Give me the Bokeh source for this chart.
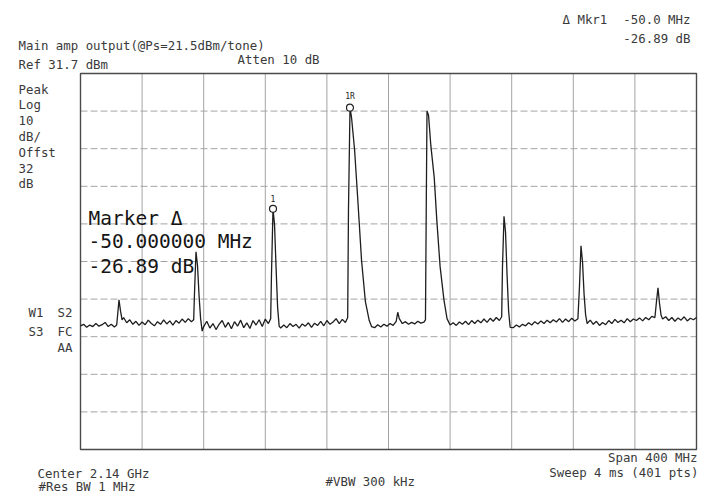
from bokeh.plotting import figure
from bokeh.models import Label, Range1d
from bokeh.core.properties import value
from bokeh.embed import file_html
from bokeh.resources import INLINE

# ---------------- data (read from the analyzer print) ----------------
center_mhz = 2140.0
span_mhz = 400.0
ref_dbm = 31.7
db_per_div = 10.0

freq_mhz = [
    1940, 1942, 1944, 1946, 1948, 1950, 1952, 1954, 1956, 1958, 1960, 1962, 1963.5,
    1964, 1965, 1966, 1967, 1968,
    1970, 1972, 1974, 1976, 1978, 1980, 1982, 1984, 1986, 1988, 1990, 1992, 1994, 1996,
    1998, 2000, 2002, 2004, 2006, 2008, 2010, 2012, 2013.5,
    2014, 2015, 2016, 2017, 2018, 2019,
    2020, 2022, 2024, 2026, 2028, 2030, 2032, 2034, 2036, 2038, 2040, 2042, 2044, 2046,
    2048, 2050, 2052, 2054, 2056, 2058, 2060, 2062, 2063.5,
    2064, 2065, 2066, 2067, 2068, 2069,
    2070, 2072, 2074, 2076, 2078, 2080, 2082, 2084, 2086, 2088, 2090, 2092, 2094, 2096,
    2098, 2100, 2102, 2104, 2106, 2108, 2110, 2112, 2113.5,
    2114, 2115, 2116, 2118, 2120, 2122.5, 2125, 2127.5, 2129,
    2131, 2133, 2135, 2137, 2139, 2141, 2143, 2145, 2146, 2147, 2149, 2151, 2153, 2155,
    2157, 2159, 2161, 2163, 2164,
    2164.5, 2165, 2166, 2167.5, 2169.7, 2171.4, 2173.5, 2176, 2178, 2180,
    2182, 2184, 2186, 2188, 2190, 2192, 2194, 2196, 2198, 2200, 2202, 2204, 2206, 2208,
    2210, 2212, 2213.5,
    2214, 2215, 2216, 2217, 2218, 2219,
    2221, 2223, 2225, 2227, 2229, 2231, 2233, 2235, 2237, 2239, 2241, 2243, 2245, 2247,
    2249, 2251, 2253, 2255, 2257, 2259, 2261, 2263,
    2264, 2265, 2266, 2267, 2268, 2269,
    2271, 2273, 2275, 2277, 2279, 2281, 2283, 2285, 2287, 2289, 2291, 2293, 2295, 2297,
    2299, 2301, 2303, 2305, 2307, 2309, 2311, 2313,
    2314, 2315, 2316, 2317, 2318,
    2320, 2322, 2324, 2326, 2328, 2330, 2332, 2334, 2336, 2338, 2340,
]

level_dbm = [
    -35.4, -35.0, -35.8, -35.2, -35.6, -34.8, -35.5, -35.1, -34.5, -35.6, -35.0, -35.7, -35.2,
    -33.0, -28.5, -31.5, -33.8, -33.2,
    -34.6, -33.8, -35.0, -34.2, -35.3, -34.4, -35.1, -33.9, -34.8, -35.4, -34.3, -35.0, -33.8, -34.9,
    -34.1, -35.2, -34.0, -34.7, -33.6, -34.5, -33.5, -34.3, -33.8,
    -27.0, -15.7, -19.5, -27.5, -33.5, -36.8,
    -35.6, -34.2, -36.0, -34.8, -36.4, -35.0, -34.0, -35.8, -34.5, -36.2, -34.3, -35.5, -33.9, -35.9,
    -34.6, -36.1, -34.0, -35.2, -33.8, -35.6, -33.6, -34.8, -33.5,
    -22.0, -4.3, -8.5, -20.0, -30.5, -35.5,
    -36.0, -35.2, -35.9, -34.8, -35.6, -35.0, -36.0, -34.9, -35.5, -34.6, -35.8, -34.7, -35.3, -34.2,
    -35.4, -34.0, -35.0, -34.4, -33.5, -34.8, -33.7, -34.5, -33.2,
    -5.0, 22.6, 20.0, 11.3, -1.5, -18.0, -29.0, -34.0, -35.6,
    -35.9, -35.1, -35.7, -35.0, -35.5, -34.8, -35.3, -34.2, -31.8, -33.5, -34.8, -34.3, -35.0, -34.5,
    -34.9, -34.2, -34.7, -34.4, -33.8,
    -5.0, 21.7, 20.6, 12.5, 4.0, -7.5, -19.6, -28.5, -33.5, -35.2,
    -34.6, -35.3, -34.4, -35.0, -34.2, -35.1, -34.0, -34.8, -33.9, -34.6, -33.6, -34.5, -33.4, -34.2,
    -33.2, -34.0, -33.0,
    -20.0, -6.3, -10.5, -22.0, -31.5, -35.8,
    -35.9, -35.2, -35.7, -35.0, -35.4, -34.6, -35.2, -34.3, -34.9, -34.1, -34.8, -33.9, -34.6, -33.8,
    -34.4, -33.5, -34.5, -33.6, -34.3, -33.4, -34.1, -33.5,
    -25.0, -14.1, -18.5, -27.0, -32.5, -34.8,
    -33.9, -35.0, -34.2, -35.3, -34.5, -35.1, -34.0, -34.8, -33.7, -34.5, -33.9, -34.6, -33.5, -34.3,
    -33.6, -34.0, -33.3, -34.1, -33.2, -33.8, -32.9, -33.2,
    -29.0, -25.3, -29.5, -32.6, -33.6,
    -33.0, -34.0, -33.2, -34.2, -33.3, -33.9, -33.0, -34.1, -33.4, -33.8, -33.2,
]

marker_freq_mhz = [2115, 2065]
marker_level_dbm = [22.6, -4.3]
marker_names = ["1R", "1"]

grid_freq_mhz = [1980, 2020, 2060, 2100, 2140, 2180, 2220, 2260, 2300]
grid_level_dbm = [21.7, 11.7, 1.7, -8.3, -18.3, -28.3, -38.3, -48.3, -58.3]

# ---------------- layout ----------------
x_lo = center_mhz - span_mhz / 2
x_hi = center_mhz + span_mhz / 2
y_hi = ref_dbm
y_lo = ref_dbm - 10 * db_per_div

W, H = 700, 496
BOX_L, BOX_R, BOX_T, BOX_B = 80, 696, 73, 449   # canvas pixels of the graticule box
sx = (x_hi - x_lo) / (BOX_R - BOX_L)
sy = (y_hi - y_lo) / (BOX_B - BOX_T)


def px(xp):
    return x_lo + (xp - BOX_L) * sx


def py(yp):
    return y_hi - (yp - BOX_T) * sy


p = figure(
    title=None,
    width=W, height=H,
    min_border=0,
    x_range=Range1d(px(0), px(W)),
    y_range=Range1d(py(H), py(0)),
    x_axis_location=None,
    y_axis_location=None,
    toolbar_location=None,
    output_backend="svg",
    background_fill_color="white",
    border_fill_color="white",
)
p.outline_line_color = None
p.xgrid.visible = False
p.ygrid.visible = False

# graticule
p.segment(x0=grid_freq_mhz, y0=[y_lo] * len(grid_freq_mhz),
          x1=grid_freq_mhz, y1=[y_hi] * len(grid_freq_mhz),
          line_color="#a4a4a4", line_width=1)
p.segment(x0=[x_lo] * len(grid_level_dbm), y0=grid_level_dbm,
          x1=[x_hi] * len(grid_level_dbm), y1=grid_level_dbm,
          line_color="#a4a4a4", line_width=1, line_dash="7 3")
p.quad(left=[x_lo], right=[x_hi], bottom=[y_lo], top=[y_hi],
       fill_color=None, line_color="#4a4a4a", line_width=1.4)

# trace
p.line(freq_mhz, level_dbm, line_color="#1e1e1e", line_width=1.3)

# markers
p.scatter(marker_freq_mhz, marker_level_dbm, marker="circle", size=7,
          fill_color="white", line_color="#222222", line_width=1.2)
p.text(marker_freq_mhz, marker_level_dbm, text=marker_names, y_offset=-7,
       text_font=value("DejaVu Sans Mono"), text_font_size="8px",
       text_align="center", text_baseline="bottom", text_color="#222222")

SMALL = "12.4px"
FONT = "DejaVu Sans Mono"
SMALL_C = "#3a3a3a"


def add_text(xp, yp, s, size=SMALL, color=SMALL_C, align="left"):
    p.add_layout(Label(x=px(xp), y=py(yp), text=s, text_font=FONT,
                       text_font_size=size, text_color=color,
                       text_align=align, text_baseline="middle"))


add_text(18, 45, "Main amp output(@Ps=21.5dBm/tone)")
add_text(18, 64, "Ref 31.7 dBm")
add_text(237, 59, "Atten 10 dB")
add_text(562, 19, "\u0394 Mkr1")
add_text(690, 19, "-50.0 MHz", align="right")
add_text(690, 38, "-26.89 dB", align="right")

side_labels = ["Peak", "Log", "10", "dB/", "Offst", "32", "dB"]
for i, s in enumerate(side_labels):
    add_text(18, 88.5 + i * 15.8, s)

add_text(28, 312, "W1")
add_text(57, 312, "S2")
add_text(28, 331, "S3")
add_text(57, 331, "FC")
add_text(57, 347, "AA")

BIG = "19.5px"
BIG_C = "#151515"
add_text(88, 218, "Marker \u0394", size=BIG, color=BIG_C)
add_text(88, 241, "-50.000000 MHz", size=BIG, color=BIG_C)
add_text(88, 266, "-26.89 dB", size=BIG, color=BIG_C)

add_text(37, 473, "Center 2.14 GHz")
add_text(38, 486, "#Res BW 1 MHz")
add_text(325, 481, "#VBW 300 kHz")
add_text(697, 457, "Span 400 MHz", align="right")
add_text(698, 472, "Sweep 4 ms (401 pts)", align="right")

open("out.html", "w").write(file_html(p, INLINE))
